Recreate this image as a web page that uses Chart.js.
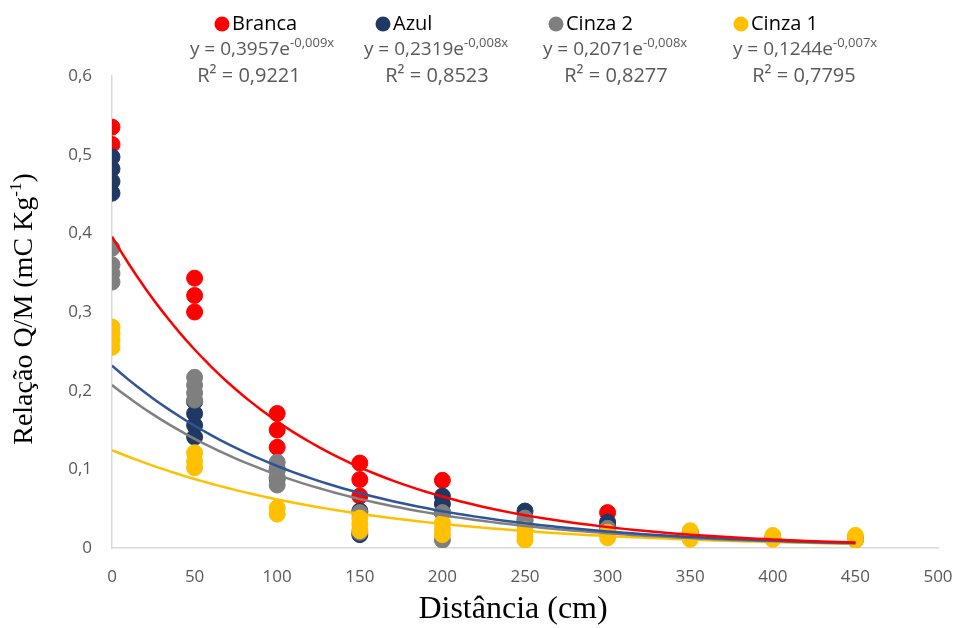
<!DOCTYPE html>
<html>
<head>
<meta charset="utf-8">
<script src="https://cdn.jsdelivr.net/npm/chart.js@4/dist/chart.umd.min.js"></script>
<style>
  html, body { margin: 0; padding: 0; background: #fff; }
  #wrap { width: 964px; height: 628px; }
</style>
</head>
<body>
<div id="wrap"><canvas id="chart" width="964" height="628"></canvas></div>
<script>
// =============== Daten ===============
const seriesNames = ['Branca', 'Azul', 'Cinza 2', 'Cinza 1'];

const xBranca = [0, 0, 50, 50, 50, 100, 100, 100, 150, 150, 150, 200, 300];
const yBranca = [0.535, 0.513, 0.343, 0.321, 0.300, 0.171, 0.150, 0.128, 0.108, 0.087, 0.066, 0.086, 0.045];

const xAzul = [0, 0, 0, 0, 50, 50, 50, 50, 100, 100, 150, 150, 200, 200, 200, 250, 250, 300, 300, 350, 400, 450];
const yAzul = [0.497, 0.482, 0.466, 0.451, 0.186, 0.171, 0.156, 0.141, 0.100, 0.088, 0.047, 0.017, 0.066, 0.056, 0.045, 0.047, 0.035, 0.033, 0.028, 0.020, 0.013, 0.012];

const xCinza2 = [0, 0, 0, 0, 50, 50, 50, 50, 100, 100, 100, 100, 150, 150, 200, 200, 250, 250, 300, 350, 400, 450];
const yCinza2 = [0.381, 0.360, 0.349, 0.338, 0.217, 0.207, 0.197, 0.188, 0.109, 0.099, 0.090, 0.080, 0.045, 0.020, 0.045, 0.010, 0.038, 0.030, 0.025, 0.018, 0.012, 0.010];

const xCinza1 = [0, 0, 0, 0, 50, 50, 50, 100, 100, 150, 150, 150, 200, 200, 200, 250, 250, 250, 300, 300, 350, 350, 400, 400, 450, 450];
const yCinza1 = [0.281, 0.273, 0.264, 0.255, 0.121, 0.110, 0.102, 0.051, 0.043, 0.038, 0.030, 0.022, 0.032, 0.024, 0.017, 0.023, 0.015, 0.010, 0.020, 0.013, 0.022, 0.011, 0.016, 0.011, 0.016, 0.010];

// Trendlinien (y = a * e^(b x)), wie im Diagramm angegeben
const trendA = [0.3957, 0.2319, 0.2071, 0.1244];
const trendB = [-0.009, -0.008, -0.008, -0.007];
const trendAText = ['0,3957', '0,2319', '0,2071', '0,1244'];
const trendBText = ['-0,009x', '-0,008x', '-0,008x', '-0,007x'];
const r2Text = ['0,9221', '0,8523', '0,8277', '0,7795'];

const xTicks = [0, 50, 100, 150, 200, 250, 300, 350, 400, 450, 500];
const yTicks = [0, 0.1, 0.2, 0.3, 0.4, 0.5, 0.6];

// =============== Helpers ===============
const markerColors = ['#ff0000', '#203864', '#7f7f7f', '#ffc000'];
const lineColors = ['#ff0000', '#2f5597', '#808080', '#ffc000'];

function toPoints(xs, ys) {
  return xs.map((x, i) => ({ x, y: ys[i] }));
}

function trendPoints(a, b) {
  const pts = [];
  for (let x = 0; x <= 450; x += 5) pts.push({ x, y: a * Math.exp(b * x) });
  return pts;
}

const scatterData = [
  toPoints(xBranca, yBranca),
  toPoints(xAzul, yAzul),
  toPoints(xCinza2, yCinza2),
  toPoints(xCinza1, yCinza1),
];

const datasets = [];
seriesNames.forEach((name, i) => {
  datasets.push({
    label: name,
    data: scatterData[i],
    showLine: false,
    pointRadius: 8,
    pointHoverRadius: 8,
    pointBackgroundColor: markerColors[i],
    pointBorderColor: markerColors[i],
    pointBorderWidth: 1,
    order: 4 - i + 1,
  });
});
seriesNames.forEach((name, i) => {
  datasets.push({
    label: 'Trend ' + name,
    data: trendPoints(trendA[i], trendB[i]),
    showLine: true,
    pointRadius: 0,
    borderColor: lineColors[i],
    borderWidth: 2.5,
    tension: 0,
    fill: false,
    order: 0,
  });
});

// ===== Legende + Gleichungen + Achsentitel =====
const legendItems = [
  { dotX: 222, eqX: 262, r2X: 249 },
  { dotX: 383, eqX: 436, r2X: 437 },
  { dotX: 556, eqX: 615, r2X: 616 },
  { dotX: 741, eqX: 805, r2X: 804 },
];

const overlayPlugin = {
  id: 'overlay',
  afterDraw(chart) {
    const ctx = chart.ctx;
    ctx.save();
    ctx.textBaseline = 'middle';
    legendItems.forEach((it, i) => {
      // Marker + Name
      ctx.fillStyle = markerColors[i];
      ctx.beginPath();
      ctx.arc(it.dotX, 24, 7.5, 0, Math.PI * 2);
      ctx.fill();
      ctx.fillStyle = '#000';
      ctx.font = '20px "Open Sans"';
      ctx.textAlign = 'left';
      ctx.fillText(seriesNames[i], it.dotX + 10, 24);

      // Gleichung
      ctx.fillStyle = '#595959';
      const main = 'y = ' + trendAText[i] + 'e';
      ctx.font = '19px "Open Sans"';
      const wMain = ctx.measureText(main).width;
      ctx.font = '13px "Open Sans"';
      const wSup = ctx.measureText(trendBText[i]).width;
      const x0 = it.eqX - (wMain + wSup) / 2;
      ctx.font = '19px "Open Sans"';
      ctx.fillText(main, x0, 50);
      ctx.font = '13px "Open Sans"';
      ctx.fillText(trendBText[i], x0 + wMain, 43);

      // R²
      ctx.font = '20px "Open Sans"';
      ctx.textAlign = 'center';
      ctx.fillText('R² = ' + r2Text[i], it.r2X, 76);
    });

    // X-Achsentitel
    ctx.fillStyle = '#000';
    ctx.font = '32px "Liberation Serif"';
    ctx.textAlign = 'center';
    ctx.fillText('Distância (cm)', 513, 610);

    // Y-Achsentitel mit Hochzahl
    ctx.translate(25, 309);
    ctx.rotate(-Math.PI / 2);
    const t1 = 'Relação Q/M (mC Kg';
    const t2 = '-1';
    const t3 = ')';
    ctx.font = '28px "Liberation Serif"';
    const w1 = ctx.measureText(t1).width;
    const w3 = ctx.measureText(t3).width;
    ctx.font = '17px "Liberation Serif"';
    const w2 = ctx.measureText(t2).width;
    let x = -(w1 + w2 + w3) / 2;
    ctx.textAlign = 'left';
    ctx.font = '28px "Liberation Serif"';
    ctx.fillText(t1, x, 0);
    x += w1;
    ctx.font = '17px "Liberation Serif"';
    ctx.fillText(t2, x, -8);
    x += w2;
    ctx.font = '28px "Liberation Serif"';
    ctx.fillText(t3, x, 0);
    ctx.restore();
  },
};

// ===== Chart.js Setup =====
const ctx = document.getElementById('chart').getContext('2d');
new Chart(ctx, {
  type: 'scatter',
  data: { datasets },
  plugins: [overlayPlugin],
  options: {
    responsive: false,
    animation: false,
    events: [],
    layout: { padding: { top: 76, right: 26, left: 0, bottom: 0 } },
    plugins: {
      legend: { display: false },
      tooltip: { enabled: false },
    },
    scales: {
      x: {
        type: 'linear',
        min: 0,
        max: 500,
        afterFit(scale) {
          scale.height = 80;
          scale.paddingLeft = 0;
          scale.paddingRight = 0;
        },
        afterBuildTicks(scale) { scale.ticks = xTicks.map((v) => ({ value: v })); },
        grid: { display: false, drawTicks: false },
        border: { display: true, color: '#d9d9d9', width: 1.5 },
        ticks: {
          padding: 19,
          color: '#595959',
          font: { family: 'Open Sans', size: 17 },
          maxRotation: 0,
          callback: (v) => String(v),
        },
      },
      y: {
        type: 'linear',
        min: 0,
        max: 0.6,
        afterFit(scale) {
          scale.width = 112;
          scale.paddingTop = 0;
          scale.paddingBottom = 0;
        },
        afterBuildTicks(scale) { scale.ticks = yTicks.map((v) => ({ value: v })); },
        grid: { display: false, drawTicks: false },
        border: { display: true, color: '#d9d9d9', width: 1.5 },
        ticks: {
          padding: 20,
          color: '#595959',
          font: { family: 'Open Sans', size: 17 },
          callback: (v) => (v === 0 ? '0' : v.toFixed(1).replace('.', ',')),
        },
      },
    },
  },
});
</script>
</body>
</html>
